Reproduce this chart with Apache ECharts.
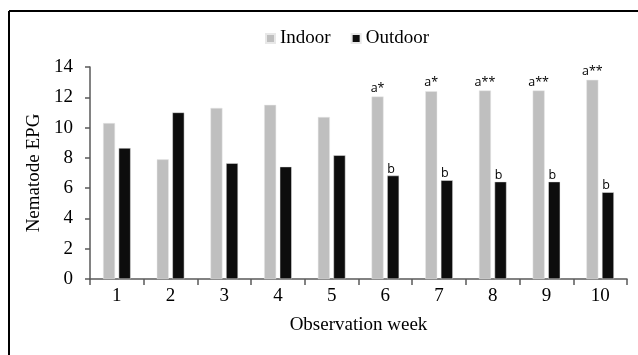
<!DOCTYPE html>
<html>
<head>
<meta charset="utf-8">
<script src="https://cdn.jsdelivr.net/npm/echarts@6/dist/echarts.min.js"></script>
<style>html,body{margin:0;padding:0;background:#fff}#c{width:638px;height:355px}</style>
</head>
<body>
<div id="c"></div>
<script>
const weeks = ['1','2','3','4','5','6','7','8','9','10'];
const indoor = [10.3, 7.9, 11.3, 11.5, 10.7, 12.05, 12.4, 12.45, 12.45, 13.15];
const outdoor = [8.65, 11.0, 7.65, 7.42, 8.17, 6.83, 6.52, 6.43, 6.43, 5.73];
const indoorMarks = ['', '', '', '', '', 'a*', 'a*', 'a**', 'a**', 'a**'];
const outdoorMarks = ['', '', '', '', '', 'b', 'b', 'b', 'b', 'b'];
const yTicks = [0, 2, 4, 6, 8, 10, 12, 14];

const serif = '"Liberation Serif", "Times New Roman", serif';
const sans = '"Open Sans", "DejaVu Sans", sans-serif';
const axisColor = '#595959';

const chart = echarts.init(document.getElementById('c'), null, {renderer: 'canvas'});
chart.setOption({
  animation: false,
  backgroundColor: '#fff',
  graphic: [
    {type: 'line', shape: {x1: 9, y1: 11, x2: 640, y2: 11}, style: {stroke: '#000', lineWidth: 2}},
    {type: 'line', shape: {x1: 9, y1: 11, x2: 9, y2: 360}, style: {stroke: '#000', lineWidth: 2}}
  ],
  legend: {
    top: 24,
    left: 260,
    itemWidth: 9,
    itemHeight: 9,
    itemGap: 20,
    icon: 'rect',
    textStyle: {fontFamily: serif, fontSize: 19, color: '#000'},
    data: ['Indoor', 'Outdoor']
  },
  grid: {left: 90, right: 11, top: 67, bottom: 76, containLabel: false},
  xAxis: {
    type: 'category',
    data: weeks,
    boundaryGap: true,
    name: 'Observation week',
    nameLocation: 'middle',
    nameGap: 37,
    nameTextStyle: {fontFamily: serif, fontSize: 19, color: '#000'},
    axisLine: {lineStyle: {color: axisColor, width: 1.5}},
    axisTick: {show: true, length: 6, alignWithLabel: false, lineStyle: {color: axisColor, width: 1.5}},
    axisLabel: {fontFamily: serif, fontSize: 19, color: '#000', margin: 8}
  },
  yAxis: {
    type: 'value',
    min: yTicks[0],
    max: yTicks[yTicks.length - 1],
    interval: 2,
    name: 'Nematode EPG',
    nameLocation: 'middle',
    nameGap: 44,
    nameTextStyle: {fontFamily: serif, fontSize: 19, color: '#000'},
    axisLine: {show: true, lineStyle: {color: axisColor, width: 1.5}},
    axisTick: {show: true, length: 5, lineStyle: {color: axisColor, width: 1.5}},
    axisLabel: {fontFamily: serif, fontSize: 19, color: '#000', margin: 17},
    splitLine: {show: false}
  },
  series: [
    {
      name: 'Indoor',
      type: 'bar',
      data: indoor,
      barWidth: 12,
      barGap: '30%',
      itemStyle: {color: '#bfbfbf', borderColor: '#e8e8e8', borderWidth: 0.5},
      label: {
        show: true,
        position: 'top',
        distance: 2,
        fontFamily: sans,
        fontSize: 12.5,
        color: '#000',
        formatter: p => indoorMarks[p.dataIndex]
      }
    },
    {
      name: 'Outdoor',
      type: 'bar',
      data: outdoor,
      barWidth: 12,
      barGap: '30%',
      itemStyle: {color: '#0d0d0d', borderColor: '#e8e8e8', borderWidth: 0.5},
      label: {
        show: true,
        position: 'top',
        distance: 0,
        offset: [-2, 0],
        fontFamily: sans,
        fontSize: 12.5,
        color: '#000',
        formatter: p => outdoorMarks[p.dataIndex]
      }
    }
  ]
});
</script>
</body>
</html>
